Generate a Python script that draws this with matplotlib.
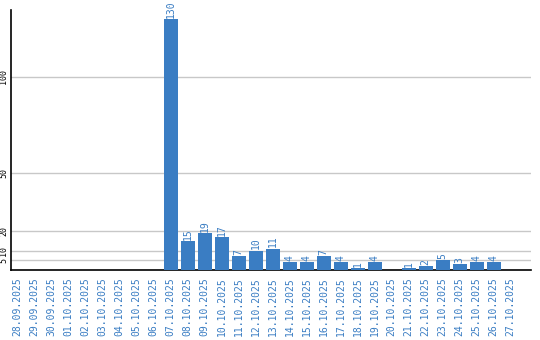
import matplotlib
matplotlib.use('Agg')
import matplotlib.pyplot as plt

dates = ['28.09.2025', '29.09.2025', '30.09.2025', '01.10.2025', '02.10.2025',
         '03.10.2025', '04.10.2025', '05.10.2025', '06.10.2025', '07.10.2025',
         '08.10.2025', '09.10.2025', '10.10.2025', '11.10.2025', '12.10.2025',
         '13.10.2025', '14.10.2025', '15.10.2025', '16.10.2025', '17.10.2025',
         '18.10.2025', '19.10.2025', '20.10.2025', '21.10.2025', '22.10.2025',
         '23.10.2025', '24.10.2025', '25.10.2025', '26.10.2025', '27.10.2025']
counts = [0, 0, 0, 0, 0, 0, 0, 0, 0, 130,
          15, 19, 17, 7, 10, 11, 4, 4, 7, 4,
          1, 4, 0, 1, 2, 5, 3, 4, 4, 0]
y_ticks = [5, 10, 20, 50, 100]

blue = '#3a7dc3'
plt.rcParams['font.family'] = 'DejaVu Sans Mono'

fig = plt.figure(figsize=(5.4, 3.4), dpi=100)
ax = fig.add_axes([11/540, 70/340, 520/540, 260/340])

x = range(len(dates))
bars = ax.bar(x, counts, width=0.82, color=blue, zorder=3)
for xi, v in zip(x, counts):
    if v > 0:
        ax.text(xi, v + 0.8, str(v), rotation=90, ha='center', va='bottom',
                fontsize=7, color=blue)

ax.set_xlim(-0.4, 30.2)
ax.set_ylim(0, 134.7)
ax.set_yticks(y_ticks)
ax.set_yticklabels([str(t) for t in y_ticks], rotation=90, va='center', fontsize=6)
ax.yaxis.grid(True, color='#c8c8c8', linewidth=1, zorder=0)
ax.tick_params(axis='y', length=0, pad=2)
ax.set_xticks(list(x))
ax.set_xticklabels(dates, rotation=90, fontsize=7, color=blue)
ax.tick_params(axis='x', length=0, pad=5)

for side in ['top', 'right']:
    ax.spines[side].set_visible(False)
ax.spines['left'].set_linewidth(1.2)
ax.spines['bottom'].set_linewidth(1.2)

fig.savefig('out.png', dpi=100)
